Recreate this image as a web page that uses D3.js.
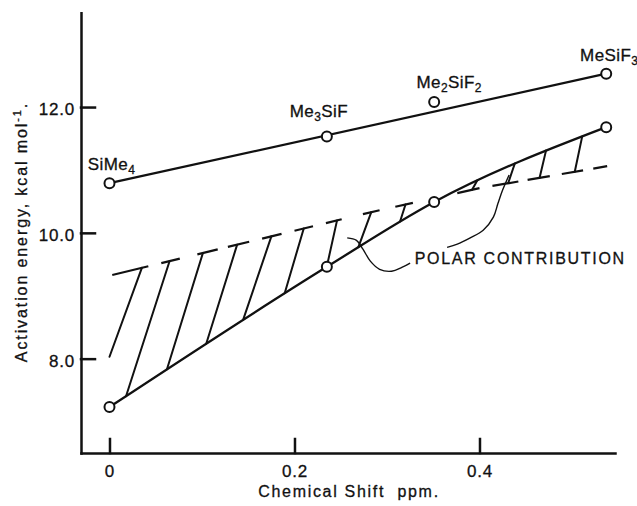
<!doctype html>
<html>
<head>
<script src="https://cdnjs.cloudflare.com/ajax/libs/d3/7.8.5/d3.min.js"></script>
<style>
  body { margin: 0; background: #fff; }
  svg text { font-family: "Liberation Sans", Arial, sans-serif; fill: #111; stroke: #111; stroke-width: 0.3px; }
</style>
</head>
<body>
<svg width="637" height="506"></svg>
<script>
// chemical shift (ppm) of the four silanes
var shift = [0, 0.235, 0.351, 0.537];
var compounds = ["SiMe₄", "Me₃SiF", "Me₂SiF₂", "MeSiF₃"];
// activation energies, kcal/mol
var upperEa = [10.79, 11.53, 12.08, 12.53];
var lowerEa = [7.23, 9.46, 10.49, 11.68];

// broken (extrapolated) line, as a polyline, and its dashes
var brokenX = [0.003, 0.283, 0.400, 0.538];
var brokenY = [9.33, 10.33, 10.71, 11.06];
var dashes = [[0.003, 0.042], [0.056, 0.076], [0.095, 0.117], [0.128, 0.151],
              [0.165, 0.186], [0.200, 0.220], [0.234, 0.251], [0.274, 0.292],
              [0.309, 0.328], [0.376, 0.400], [0.414, 0.442], [0.452, 0.476],
              [0.489, 0.512], [0.523, 0.538]];
// hatch strokes: [x on broken line, x toward solid curve, Ea toward solid curve]
var hatches = [[0.035, 0.000, 8.03], [0.065, 0.020, 7.50], [0.101, 0.064, 7.92],
               [0.138, 0.107, 8.35], [0.175, 0.148, 8.77], [0.210, 0.192, 9.17],
               [0.246, 0.237, 9.60], [0.283, 0.271, 9.85], [0.320, 0.315, 10.22],
               [0.392, 0.396, 10.79], [0.431, 0.437, 11.05], [0.465, 0.471, 11.25],
               [0.503, 0.510, 11.46]];

// pointer lines for the annotation
var leader1 = [[0.257, 9.92], [0.267, 9.88], [0.274, 9.74], [0.282, 9.55],
               [0.292, 9.42], [0.305, 9.39], [0.316, 9.45], [0.325, 9.52]];
var leader2 = [[0.432, 10.92], [0.425, 10.68], [0.420, 10.47], [0.415, 10.25],
               [0.404, 10.04], [0.390, 9.92], [0.376, 9.82], [0.365, 9.77]];
var noteText = "POLAR CONTRIBUTION";
var notePos = [0.330, 9.50];

var yTicks = [8, 10, 12];
var xTicks = [0, 0.2, 0.4];

var svg = d3.select("svg");
var x = d3.scaleLinear().domain([-0.0308, 0.5465]).range([81, 615]);
var y = d3.scaleLinear().domain([6.5, 13.5]).range([453, 12.7]);

// axes
var yAxis = d3.axisLeft(y).tickValues(yTicks).tickSize(-14).tickSizeOuter(0)
    .tickPadding(6).tickFormat(d3.format(".1f"));
var xAxis = d3.axisBottom(x).tickValues(xTicks).tickSize(-14).tickSizeOuter(0)
    .tickPadding(12).tickFormat(d => d === 0 ? "0" : d.toFixed(1));

var gy = svg.append("g").attr("transform", "translate(81,0)").call(yAxis);
var gx = svg.append("g").attr("transform", "translate(0,453)").call(xAxis);
[gx, gy].forEach(g => {
  g.attr("font-family", null).attr("font-size", null);
  g.selectAll("path, line").attr("stroke", "#111").attr("stroke-width", 2.5)
    .attr("stroke-linecap", "square");
  g.selectAll("text").style("font-size", "17px").style("letter-spacing", "0.8px");
});
gy.selectAll("text").attr("dy", "0.45em");

svg.append("text")
    .attr("x", 349).attr("y", 497)
    .attr("text-anchor", "middle")
    .style("font-size", "16px").style("letter-spacing", "1.7px")
    .text("Chemical Shift\u00a0 ppm.");

var yl = svg.append("text")
    .attr("transform", "translate(27,232) rotate(-90)")
    .attr("text-anchor", "middle")
    .style("font-size", "16px").style("letter-spacing", "1.9px");
yl.append("tspan").text("Activation energy, kcal mol");
yl.append("tspan").attr("dy", -6).style("font-size", "11px").text("-1");
yl.append("tspan").attr("dy", 6).text(".");

// lines
var line = d3.line().x(d => x(d[0])).y(d => y(d[1]));
var upperPts = shift.map((s, i) => [s, upperEa[i]]);
var lowerPts = shift.map((s, i) => [s, lowerEa[i]]);

svg.append("path")
    .attr("d", line([upperPts[0], upperPts[upperPts.length - 1]]))
    .attr("fill", "none").attr("stroke", "#111").attr("stroke-width", 2.3);

var lowerPath = svg.append("path")
    .attr("d", line.curve(d3.curveMonotoneX)(lowerPts))
    .attr("fill", "none").attr("stroke", "#111").attr("stroke-width", 2.3);
line.curve(d3.curveLinear);

// broken line lookup
var broken = d3.scaleLinear().domain(brokenX).range(brokenY);

svg.append("g").selectAll("line")
  .data(dashes).join("line")
    .attr("x1", d => x(d[0])).attr("y1", d => y(broken(d[0])))
    .attr("x2", d => x(d[1])).attr("y2", d => y(broken(d[1])))
    .attr("stroke", "#111").attr("stroke-width", 2.2);

// sample the solid curve so the hatch strokes can end on it
var node = lowerPath.node(), total = node.getTotalLength(), poly = [];
for (var l = 0; l <= total; l += 1.5) {
  var p = node.getPointAtLength(l);
  poly.push([p.x, p.y]);
}

function hitCurve(t0, t1) {
  var dx = t1[0] - t0[0], dy = t1[1] - t0[1], best = null;
  for (var i = 0; i < poly.length - 1; i++) {
    var p = poly[i], q = poly[i + 1];
    var ex = q[0] - p[0], ey = q[1] - p[1];
    var den = dx * ey - dy * ex;
    if (Math.abs(den) < 1e-9) continue;
    var t = ((p[0] - t0[0]) * ey - (p[1] - t0[1]) * ex) / den;
    var u = ((p[0] - t0[0]) * dy - (p[1] - t0[1]) * dx) / den;
    if (u >= 0 && u <= 1 && t > 0.3 && t < 2.5) {
      if (best === null || Math.abs(t - 1) < Math.abs(best - 1)) best = t;
    }
  }
  if (best === null) return t1;
  return [t0[0] + best * dx, t0[1] + best * dy];
}

svg.append("g").selectAll("line")
  .data(hatches).join("line")
    .each(function(d) {
      var a = [x(d[0]), y(broken(d[0]))];
      var b = hitCurve(a, [x(d[1]), y(d[2])]);
      d3.select(this).attr("x1", a[0]).attr("y1", a[1]).attr("x2", b[0]).attr("y2", b[1]);
    })
    .attr("stroke", "#111").attr("stroke-width", 2)
    .attr("stroke-linecap", "round");

// annotation
var curve = d3.line().x(d => x(d[0])).y(d => y(d[1])).curve(d3.curveCatmullRom);
[leader1, leader2].forEach(pts => {
  svg.append("path").attr("d", curve(pts))
    .attr("fill", "none").attr("stroke", "#111").attr("stroke-width", 1.4);
});
svg.append("text")
    .attr("x", x(notePos[0])).attr("y", y(notePos[1]))
    .style("font-size", "16px").style("letter-spacing", "1.7px")
    .text(noteText);

// data points
svg.append("g").selectAll("circle")
  .data(upperPts.concat(lowerPts)).join("circle")
    .attr("cx", d => x(d[0])).attr("cy", d => y(d[1])).attr("r", 5)
    .attr("fill", "#fff").attr("stroke", "#111").attr("stroke-width", 2);

// compound names, subscripts as tspans
var subs = "₀₁₂₃₄₅₆₇₈₉";
var labelShift = [[2, -13], [-8, -20], [15, -14], [3, -13]];
compounds.forEach((name, i) => {
  var t = svg.append("text")
      .attr("x", x(shift[i]) + labelShift[i][0])
      .attr("y", y(upperEa[i]) + labelShift[i][1])
      .attr("text-anchor", "middle")
      .style("font-size", "17px").style("letter-spacing", "0.4px");
  var down = false;
  Array.from(name).forEach(ch => {
    var k = subs.indexOf(ch);
    if (k >= 0) {
      t.append("tspan").attr("dy", down ? 0 : 4).style("font-size", "12px").text(String(k));
      down = true;
    } else {
      t.append("tspan").attr("dy", down ? -4 : 0).text(ch);
      down = false;
    }
  });
});
</script>
</body>
</html>
